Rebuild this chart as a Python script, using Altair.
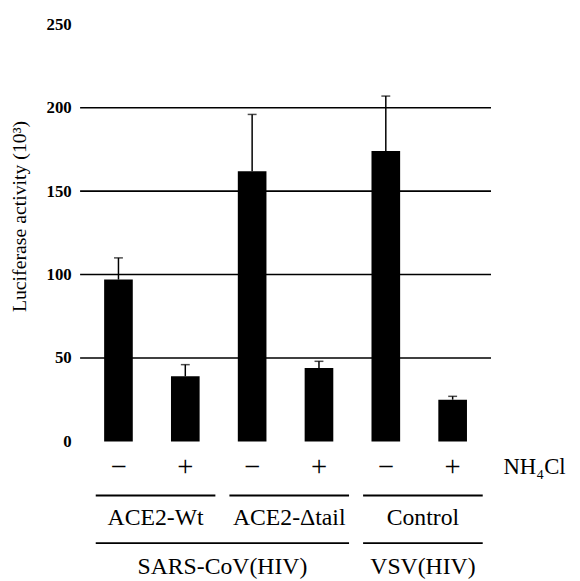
import altair as alt
import pandas as pd

# ---- data ----
categories = ["ACE2-Wt", "ACE2-Wt", "ACE2-Δtail", "ACE2-Δtail", "Control", "Control"]
treatment = ["−", "+", "−", "+", "−", "+"]
luciferase = [97, 39, 162, 44, 174, 25]
error_top = [110, 46, 196, 48, 207, 27]
gridline_values = [50, 100, 150, 200]
y_tick_values = [0, 50, 100, 150, 200, 250]
group1_labels = ["ACE2-Wt", "ACE2-Δtail", "Control"]
group2_labels = ["SARS-CoV(HIV)", "VSV(HIV)"]
group2_members = [["ACE2-Wt", "ACE2-Δtail"], ["Control"]]
row_label = "NH₄Cl"
y_title = "Luciferase activity (10³)"

# ---- layout constants (not data) ----
FONT = "Liberation Serif"
ROW_SIGN = -15.5
ROW_LINE1 = -32.5
ROW_LABEL1 = -46
ROW_LINE2 = -61
ROW_LABEL2 = -75.5
INSET_L = 0.16
INSET_R = 0.05
ROW_LABEL_OFFSET = 0.26

n = len(categories)
bars = pd.DataFrame({
    "pos": [i + 0.5 for i in range(n)],
    "value": luciferase,
    "err": error_top,
    "sign": treatment,
    "row": [ROW_SIGN] * n,
})
grid_df = pd.DataFrame({"v": gridline_values})

def span(members):
    idx = [i for i, c in enumerate(categories) if c in members]
    return min(idx), max(idx) + 1

g1 = []
for lab in group1_labels:
    s, e = span([lab])
    x1, x2 = s + INSET_L, e - INSET_R
    g1.append({"label": lab, "x": x1, "x2": x2, "mid": (x1 + x2) / 2,
               "lrow": ROW_LINE1, "trow": ROW_LABEL1})
g2 = []
for lab, mem in zip(group2_labels, group2_members):
    s, e = span(mem)
    x1, x2 = s + INSET_L, e - INSET_R
    g2.append({"label": lab, "x": x1, "x2": x2, "mid": (x1 + x2) / 2,
               "lrow": ROW_LINE2, "trow": ROW_LABEL2})
groups = pd.DataFrame(g1 + g2)
rowlab = pd.DataFrame({"label": [row_label], "x": [n + ROW_LABEL_OFFSET], "row": [ROW_SIGN]})

xscale = alt.Scale(domain=[0, n], nice=False, zero=False)
yscale = alt.Scale(domain=[-81, 250], nice=False, zero=False)
yaxis = alt.Axis(values=y_tick_values, title=y_title, domain=False, ticks=False, grid=False,
                 labelFont=FONT, labelFontSize=17, labelFontWeight="bold", labelColor="black",
                 labelPadding=9, titleFont=FONT, titleFontSize=20, titleFontWeight="normal",
                 titleColor="black", titleX=-61, titleY=194, titleAlign="center",
                 titleBaseline="middle", titleAngle=270)

def Y(field):
    return alt.Y(field, type="quantitative", scale=yscale, axis=yaxis)

grid = alt.Chart(grid_df).mark_rule(color="black", strokeWidth=1.6).encode(y=Y("v"))

bar = alt.Chart(bars).mark_bar(size=29, color="black").encode(
    x=alt.X("pos:Q", scale=xscale, axis=None), y=Y("value"))

err = alt.Chart(bars).mark_rule(color="black", strokeWidth=1.5).encode(
    x=alt.X("pos:Q", scale=xscale, axis=None), y=Y("value"), y2="err")

cap = alt.Chart(bars).mark_tick(orient="horizontal", size=9, thickness=1.5, color="black").encode(
    x=alt.X("pos:Q", scale=xscale, axis=None), y=Y("err"))

signs = alt.Chart(bars).mark_text(font=FONT, fontSize=29, color="black", baseline="middle").encode(
    x=alt.X("pos:Q", scale=xscale, axis=None), y=Y("row"), text="sign")

lines = alt.Chart(groups).mark_rule(color="black", strokeWidth=2).encode(
    x=alt.X("x:Q", scale=xscale, axis=None), x2="x2", y=Y("lrow"))

glabels = alt.Chart(groups).mark_text(font=FONT, fontSize=24, color="black", baseline="middle").encode(
    x=alt.X("mid:Q", scale=xscale, axis=None), y=Y("trow"), text="label")

rlabel = alt.Chart(rowlab).mark_text(font=FONT, fontSize=23, color="black", baseline="middle",
                                     align="left").encode(
    x=alt.X("x:Q", scale=xscale, axis=None), y=Y("row"), text="label")

chart = alt.layer(grid, bar, err, cap, signs, lines, glabels, rlabel).properties(
    width=416, height=559,
    autosize=alt.AutoSizeParams(type="none"),
    padding={"left": 73, "top": 13, "right": 82, "bottom": 0},
    background="white",
).configure_view(stroke=None)

chart.save("out.html", embed_options={"renderer": "svg", "actions": False})
